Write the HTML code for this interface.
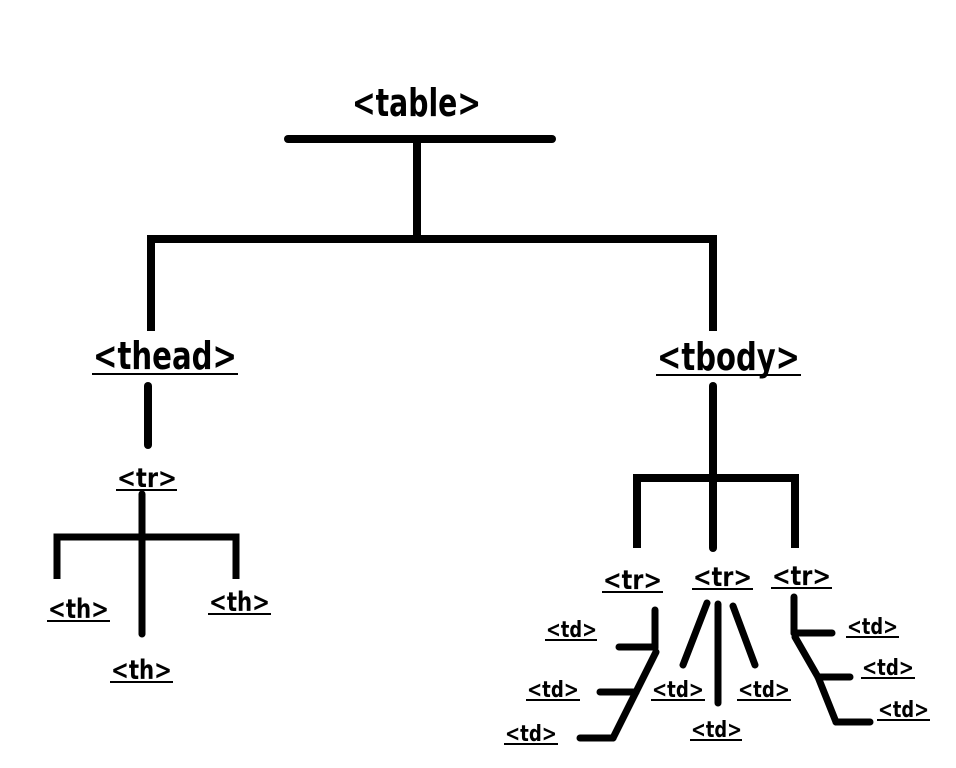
<!DOCTYPE html>
<html><head><meta charset="utf-8"><style>
html,body{margin:0;padding:0;background:#fff;width:956px;height:768px;overflow:hidden}
text{font-family:"DejaVu Sans","Liberation Sans",sans-serif;font-weight:bold;fill:#000}
</style></head><body>
<svg width="956" height="768" viewBox="0 0 956 768" xmlns="http://www.w3.org/2000/svg">
<g stroke="#000" stroke-width="8" fill="none" stroke-linecap="butt" stroke-linejoin="miter">
<line x1="288" y1="139" x2="552" y2="139" stroke-linecap="round"/>
<line x1="417" y1="139" x2="417" y2="239"/>
<polyline points="151,331 151,239 713,239 713,331"/>
<line x1="148" y1="386" x2="148" y2="445" stroke-linecap="round"/>
<line x1="142" y1="494" x2="142" y2="634" stroke-linecap="round" stroke-width="7"/>
<polyline points="57,579 57,537 236,537 236,579" stroke-width="7"/>
<line x1="713" y1="386" x2="713" y2="548" stroke-linecap="round"/>
<polyline points="637,548 637,478 795,478 795,548"/>
<g stroke-width="7" stroke-linecap="round">
<line x1="655" y1="610" x2="655" y2="648"/>
<line x1="619" y1="647" x2="655" y2="647"/>
<polyline points="656,652 636,692 613,738"/>
<line x1="600" y1="692" x2="636" y2="692"/>
<line x1="580" y1="738" x2="613" y2="738"/>
<line x1="707" y1="603" x2="683" y2="665"/>
<line x1="718" y1="604" x2="718" y2="703"/>
<line x1="733" y1="606" x2="755" y2="665"/>
<line x1="794" y1="597" x2="794" y2="633"/>
<line x1="794" y1="633" x2="832" y2="633"/>
<polyline points="795,637 818,677 836,722"/>
<line x1="818" y1="677" x2="850" y2="677"/>
<line x1="836" y1="722" x2="870" y2="722"/>
</g>
</g>
<text x="352" y="116" font-size="38" textLength="129" lengthAdjust="spacingAndGlyphs">&lt;table&gt;</text>
<g stroke="#000" stroke-width="2">
<line x1="92" y1="374" x2="238" y2="374"/>
<line x1="656" y1="375" x2="801" y2="375"/>
<line x1="116" y1="490" x2="177" y2="490"/>
<line x1="47" y1="621" x2="110" y2="621"/>
<line x1="208" y1="614" x2="271" y2="614"/>
<line x1="110" y1="682" x2="173" y2="682"/>
<line x1="602" y1="592" x2="663" y2="592"/>
<line x1="692" y1="589" x2="753" y2="589"/>
<line x1="771" y1="588" x2="832" y2="588"/>
<line x1="545" y1="640" x2="597" y2="640"/>
<line x1="526" y1="700" x2="580" y2="700"/>
<line x1="504" y1="744" x2="558" y2="744"/>
<line x1="651" y1="700" x2="705" y2="700"/>
<line x1="690" y1="740" x2="742" y2="740"/>
<line x1="737" y1="700" x2="791" y2="700"/>
<line x1="846" y1="637" x2="899" y2="637"/>
<line x1="861" y1="678" x2="915" y2="678"/>
<line x1="877" y1="720" x2="930" y2="720"/>
</g>
<text x="93" y="369" font-size="38" textLength="144" lengthAdjust="spacingAndGlyphs">&lt;thead&gt;</text>
<text x="657" y="370" font-size="38" textLength="143" lengthAdjust="spacingAndGlyphs">&lt;tbody&gt;</text>
<text x="117" y="487" font-size="27" textLength="60" lengthAdjust="spacingAndGlyphs">&lt;tr&gt;</text>
<text x="48" y="618" font-size="27" textLength="61" lengthAdjust="spacingAndGlyphs">&lt;th&gt;</text>
<text x="209" y="611" font-size="27" textLength="61" lengthAdjust="spacingAndGlyphs">&lt;th&gt;</text>
<text x="111" y="679" font-size="27" textLength="61" lengthAdjust="spacingAndGlyphs">&lt;th&gt;</text>
<text x="603" y="589" font-size="27" textLength="59" lengthAdjust="spacingAndGlyphs">&lt;tr&gt;</text>
<text x="693" y="586" font-size="27" textLength="59" lengthAdjust="spacingAndGlyphs">&lt;tr&gt;</text>
<text x="772" y="585" font-size="27" textLength="59" lengthAdjust="spacingAndGlyphs">&lt;tr&gt;</text>
<text x="546" y="637" font-size="22" textLength="51" lengthAdjust="spacingAndGlyphs">&lt;td&gt;</text>
<text x="527" y="697" font-size="22" textLength="52" lengthAdjust="spacingAndGlyphs">&lt;td&gt;</text>
<text x="505" y="741" font-size="22" textLength="52" lengthAdjust="spacingAndGlyphs">&lt;td&gt;</text>
<text x="652" y="697" font-size="22" textLength="52" lengthAdjust="spacingAndGlyphs">&lt;td&gt;</text>
<text x="691" y="737" font-size="22" textLength="51" lengthAdjust="spacingAndGlyphs">&lt;td&gt;</text>
<text x="738" y="697" font-size="22" textLength="52" lengthAdjust="spacingAndGlyphs">&lt;td&gt;</text>
<text x="847" y="634" font-size="22" textLength="51" lengthAdjust="spacingAndGlyphs">&lt;td&gt;</text>
<text x="862" y="675" font-size="22" textLength="52" lengthAdjust="spacingAndGlyphs">&lt;td&gt;</text>
<text x="878" y="717" font-size="22" textLength="51" lengthAdjust="spacingAndGlyphs">&lt;td&gt;</text>
</svg>
</body></html>
